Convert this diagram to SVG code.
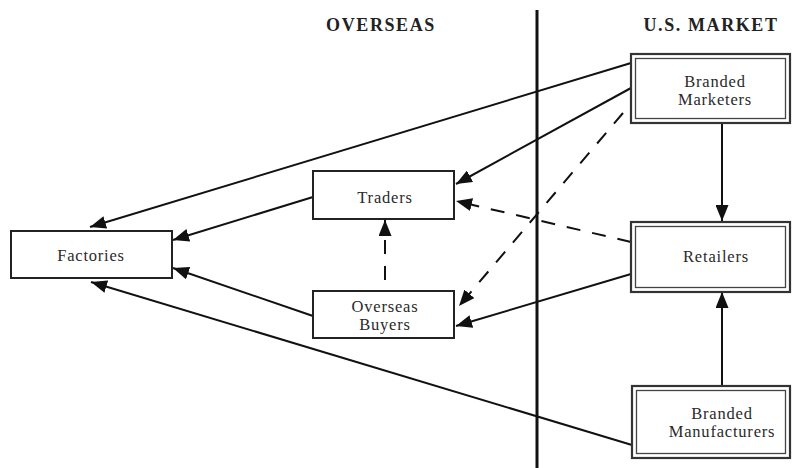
<svg xmlns="http://www.w3.org/2000/svg" width="793" height="468" viewBox="0 0 793 468">
<defs>
<marker id="ah" viewBox="0 0 10 10" refX="10" refY="5" markerWidth="16" markerHeight="13" markerUnits="userSpaceOnUse" orient="auto" preserveAspectRatio="none">
<path d="M0,0 L10,5 L0,10 z" fill="#111"/>
</marker>
<style>
.box{fill:#fff;stroke:#222;stroke-width:2}
.dbo{fill:#fff;stroke:#333;stroke-width:2.2}
.dbi{fill:none;stroke:#444;stroke-width:1.3}
.t{font-family:"Liberation Serif","Times New Roman",serif;font-size:16.5px;letter-spacing:0.8px;fill:#2a2a2a;text-anchor:middle}
.h{font-family:"Liberation Serif","Times New Roman",serif;font-size:18px;letter-spacing:1.6px;font-weight:bold;fill:#222;text-anchor:middle}
.c{stroke:#111;stroke-width:2;fill:none;marker-end:url(#ah)}
.d{stroke-dasharray:14 12}
</style>
</defs>
<rect width="793" height="468" fill="#fff"/>
<g id="headers">
<text class="h" x="381" y="31">OVERSEAS</text>
<text class="h" x="711" y="31">U.S. MARKET</text>
<line x1="537" y1="10" x2="537" y2="468" stroke="#111" stroke-width="3"/>
</g>
<g id="connectors">
<line class="c" x1="631" y1="63" x2="90" y2="227"/>
<line class="c" x1="631" y1="88" x2="456" y2="184"/>
<line class="c d" x1="623" y1="113" x2="459" y2="306"/>
<line class="c" x1="722" y1="123" x2="722" y2="221"/>
<line class="c d" x1="631" y1="242" x2="456" y2="201"/>
<line class="c" x1="631" y1="274" x2="456" y2="326"/>
<line class="c" x1="722" y1="385" x2="722" y2="292"/>
<line class="c" x1="632" y1="445" x2="91" y2="282"/>
<line class="c" x1="313" y1="197" x2="173" y2="240"/>
<line class="c" x1="313" y1="316" x2="173" y2="268"/>
<line class="c d" x1="385" y1="286" x2="385" y2="220" stroke-dasharray="14 14" stroke-dashoffset="-6"/>
</g>
<g id="factories">
<rect class="box" x="11" y="231" width="161" height="47"/>
<text class="t" x="91" y="261">Factories</text>
</g>
<g id="traders">
<rect class="box" x="313" y="171" width="141" height="48"/>
<text class="t" x="385" y="203">Traders</text>
</g>
<g id="overseas-buyers">
<rect class="box" x="313" y="291" width="141" height="47"/>
<text class="t" x="385" y="312">Overseas</text>
<text class="t" x="385" y="330">Buyers</text>
</g>
<g id="branded-marketers">
<rect class="dbo" x="631" y="54" width="159" height="69"/>
<rect class="dbi" x="635.5" y="58.5" width="150" height="60"/>
<text class="t" x="715" y="87">Branded</text>
<text class="t" x="715" y="105">Marketers</text>
</g>
<g id="retailers">
<rect class="dbo" x="631" y="222" width="159" height="70"/>
<rect class="dbi" x="635.5" y="226.5" width="150" height="61"/>
<text class="t" x="716" y="262">Retailers</text>
</g>
<g id="branded-manufacturers">
<rect class="dbo" x="632" y="386" width="158" height="72"/>
<rect class="dbi" x="636.5" y="390.5" width="149" height="63"/>
<text class="t" x="722" y="419">Branded</text>
<text class="t" x="722" y="437">Manufacturers</text>
</g>
</svg>
